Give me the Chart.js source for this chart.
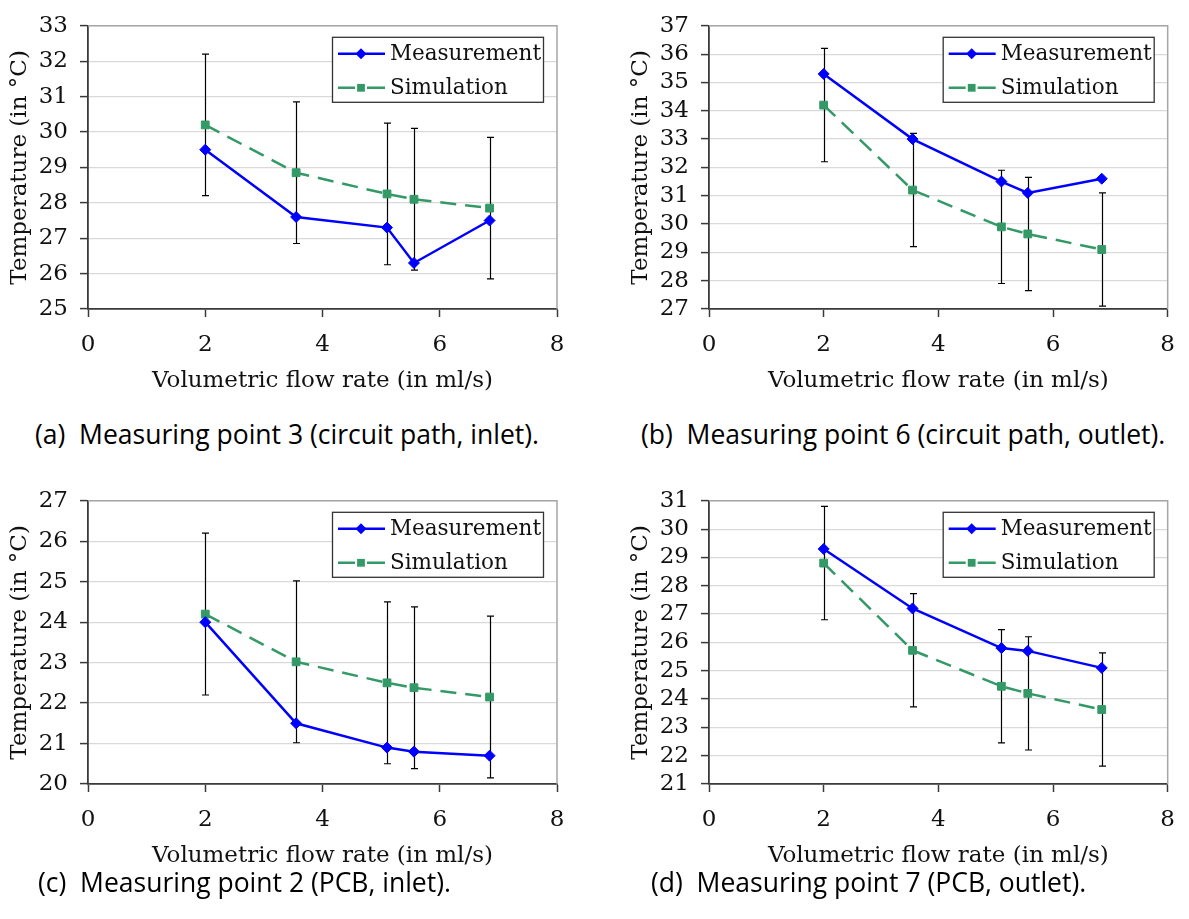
<!DOCTYPE html>
<html lang="en">
<head>
    <meta charset="UTF-8">
    <title>Temperature vs. volumetric flow rate</title>
    <script src="https://cdn.jsdelivr.net/npm/chart.js"></script>
    <style>
        body {
            margin: 0;
            background: #fff;
            width: 1189px;
            height: 919px;
            position: relative;
            overflow: hidden;
        }

        .panel {
            position: absolute;
            height: 400px;
        }

        .caption {
            position: absolute;
            font-family: "Open Sans", "Noto Sans", sans-serif;
            font-size: 26.5px;
            color: #000;
            white-space: nowrap;
            transform: translateY(-50%);
        }
    </style>
</head>
<body>
    <div class="panel" style="left:0; top:0; width:590px;"><canvas id="chartA"></canvas></div>
    <div class="panel" style="left:621px; top:0; width:568px;"><canvas id="chartB"></canvas></div>
    <div class="panel" style="left:0; top:475px; width:590px;"><canvas id="chartC"></canvas></div>
    <div class="panel" style="left:621px; top:475px; width:568px;"><canvas id="chartD"></canvas></div>

    <div class="caption" style="left:35px; top:434px;">(a)&nbsp; Measuring point 3 (circuit path, inlet).</div>
    <div class="caption" style="left:641px; top:434px;">(b)&nbsp; Measuring point 6 (circuit path, outlet).</div>
    <div class="caption" style="left:38px; top:882px;">(c)&nbsp; Measuring point 2 (PCB, inlet).</div>
    <div class="caption" style="left:651px; top:882px;">(d)&nbsp; Measuring point 7 (PCB, outlet).</div>

    <script>
        // flow rates shared by all four measuring points (ml/s)
        const flowRate = [2.0, 3.55, 5.1, 5.56, 6.85];

        // (a) measuring point 3, circuit path inlet
        const measA = [29.5, 27.6, 27.3, 26.3, 27.5];
        const simA = [30.2, 28.85, 28.25, 28.1, 27.85];
        const errA = [2, 2, 2, 2, 2];

        // (b) measuring point 6, circuit path outlet
        const measB = [35.3, 33.0, 31.5, 31.1, 31.6];
        const simB = [34.2, 31.2, 29.9, 29.65, 29.1];
        const errB = [2, 2, 2, 2, 2];

        // (c) measuring point 2, PCB inlet
        const measC = [24.0, 21.5, 20.9, 20.8, 20.7];
        const simC = [24.2, 23.02, 22.5, 22.38, 22.15];
        const errC = [2, 2, 2, 2, 2];

        // (d) measuring point 7, PCB outlet
        const measD = [29.3, 27.2, 25.8, 25.7, 25.1];
        const simD = [28.8, 25.72, 24.45, 24.2, 23.63];
        const errD = [2, 2, 2, 2, 2];

        const yRangeA = [25, 33];
        const yRangeB = [27, 37];
        const yRangeC = [20, 27];
        const yRangeD = [21, 31];

        const blue = '#0000ff';
        const green = '#339966';
        const axisColor = '#3a3a3a';
        const serif = '"DejaVu Serif", serif';
        const fontSize = 23;

        Chart.defaults.font.family = serif;
        Chart.defaults.color = '#111';

        // gray frame on the top and right of the plot area
        const frame = {
            id: 'frame',
            beforeDatasetsDraw(chart) {
                const ctx = chart.ctx, a = chart.chartArea;
                ctx.save();
                ctx.strokeStyle = '#a6a6a6';
                ctx.lineWidth = 1.5;
                ctx.beginPath();
                ctx.moveTo(a.left, a.top);
                ctx.lineTo(a.right, a.top);
                ctx.lineTo(a.right, a.bottom);
                ctx.stroke();
                ctx.restore();
            }
        };

        // +/- error bars around the simulated values
        const errorBars = {
            id: 'errorBars',
            beforeDatasetsDraw(chart) {
                const ctx = chart.ctx;
                const xs = chart.scales.x, ys = chart.scales.y;
                ctx.save();
                ctx.strokeStyle = '#000';
                ctx.lineWidth = 1.2;
                chart.data.datasets.forEach(ds => {
                    if (!ds.errorBars) return;
                    ds.data.forEach((p, i) => {
                        const x = Math.round(xs.getPixelForValue(p.x)) + 0.5;
                        const top = ys.getPixelForValue(p.y + ds.errorBars[i]);
                        const bot = ys.getPixelForValue(p.y - ds.errorBars[i]);
                        ctx.beginPath();
                        ctx.moveTo(x, top);
                        ctx.lineTo(x, bot);
                        ctx.moveTo(x - 3.5, top);
                        ctx.lineTo(x + 3.5, top);
                        ctx.moveTo(x - 3.5, bot);
                        ctx.lineTo(x + 3.5, bot);
                        ctx.stroke();
                    });
                });
                ctx.restore();
            }
        };

        function drawMarker(ctx, style, x, y, r, color) {
            ctx.fillStyle = color;
            ctx.beginPath();
            if (style === 'rectRot') {
                ctx.moveTo(x, y - r);
                ctx.lineTo(x + r, y);
                ctx.lineTo(x, y + r);
                ctx.lineTo(x - r, y);
            } else {
                const s = r * Math.SQRT1_2;
                ctx.rect(x - s, y - s, 2 * s, 2 * s);
            }
            ctx.closePath();
            ctx.fill();
        }

        // boxed legend in the upper right corner of the plot
        const boxLegend = {
            id: 'boxLegend',
            afterDatasetsDraw(chart) {
                const ctx = chart.ctx, a = chart.chartArea;
                const w = 211, h = 65;
                const left = a.right - 14 - w, top = a.top + 11;
                ctx.save();
                ctx.fillStyle = '#fff';
                ctx.fillRect(left, top, w, h);
                ctx.strokeStyle = '#333';
                ctx.lineWidth = 1.3;
                ctx.strokeRect(left + 0.5, top + 0.5, w, h);
                chart.data.datasets.forEach((ds, i) => {
                    const y = top + 17 + i * 34;
                    const x0 = left + 6, xm = left + 29, x1 = left + 53;
                    ctx.strokeStyle = ds.borderColor;
                    ctx.lineWidth = ds.borderWidth;
                    ctx.beginPath();
                    if (ds.borderDash) {
                        ctx.moveTo(x0, y);
                        ctx.lineTo(xm - 6, y);
                        ctx.moveTo(xm + 6, y);
                        ctx.lineTo(x1, y);
                    } else {
                        ctx.moveTo(x0, y);
                        ctx.lineTo(x1, y);
                    }
                    ctx.stroke();
                    drawMarker(ctx, ds.pointStyle, xm, y, ds.pointRadius, ds.backgroundColor);
                    ctx.fillStyle = '#111';
                    ctx.font = '21.5px ' + serif;
                    ctx.textAlign = 'left';
                    ctx.textBaseline = 'middle';
                    ctx.fillText(ds.label, x1 + 5, y + 1);
                });
                ctx.restore();
            }
        };

        function buildChart(id, meas, sim, err, yRange, width) {
            const pts = vals => flowRate.map((x, i) => ({ x: x, y: vals[i] }));
            return new Chart(document.getElementById(id), {
                type: 'scatter',
                data: {
                    datasets: [
                        {
                            label: 'Measurement',
                            data: pts(meas),
                            showLine: true,
                            borderColor: blue,
                            backgroundColor: blue,
                            borderWidth: 2.5,
                            pointStyle: 'rectRot',
                            pointRadius: 5.5,
                            pointBorderWidth: 1
                        },
                        {
                            label: 'Simulation',
                            data: pts(sim),
                            showLine: true,
                            borderColor: green,
                            backgroundColor: green,
                            borderWidth: 2.5,
                            borderDash: [16, 9],
                            pointStyle: 'rect',
                            pointRadius: 5.5,
                            pointBorderWidth: 1,
                            errorBars: err
                        }
                    ]
                },
                options: {
                    responsive: true,
                    maintainAspectRatio: false,
                    animation: false,
                    devicePixelRatio: 1,
                    layout: { padding: { left: 0, top: 22, right: width - 557, bottom: 0 } },
                    plugins: {
                        legend: { display: false },
                        tooltip: { enabled: false }
                    },
                    scales: {
                        x: {
                            type: 'linear',
                            min: 0,
                            max: 8,
                            afterFit: s => { s.height = 91; },
                            ticks: { stepSize: 2, padding: 14, font: { size: fontSize }, color: '#111' },
                            grid: { drawOnChartArea: false, tickLength: 8, tickColor: axisColor, tickWidth: 1.5 },
                            border: { color: axisColor, width: 1.8 },
                            title: {
                                display: true,
                                text: 'Volumetric flow rate (in ml/s)',
                                font: { size: fontSize },
                                color: '#111',
                                padding: { top: 0, bottom: 5 }
                            }
                        },
                        y: {
                            min: yRange[0],
                            max: yRange[1],
                            afterFit: s => { s.width = 88; },
                            ticks: { stepSize: 1, padding: 12, autoSkip: false, font: { size: fontSize }, color: '#111' },
                            grid: { color: '#d9d9d9', lineWidth: 1.2, tickLength: 8, tickColor: axisColor, tickWidth: 1.5 },
                            border: { color: axisColor, width: 1.8 },
                            title: {
                                display: true,
                                text: 'Temperature (in °C)',
                                font: { size: fontSize },
                                color: '#111',
                                padding: { top: 6, bottom: 0 }
                            }
                        }
                    }
                },
                plugins: [frame, errorBars, boxLegend]
            });
        }

        buildChart('chartA', measA, simA, errA, yRangeA, 590);
        buildChart('chartB', measB, simB, errB, yRangeB, 568);
        buildChart('chartC', measC, simC, errC, yRangeC, 590);
        buildChart('chartD', measD, simD, errD, yRangeD, 568);
    </script>
</body>
</html>
